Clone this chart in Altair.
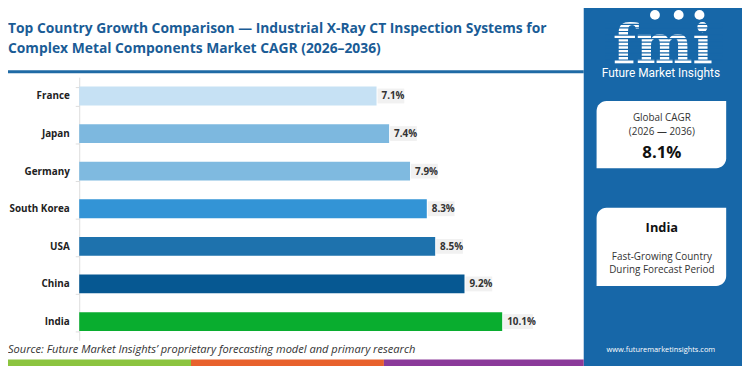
import altair as alt
import pandas as pd

countries = ["France", "Japan", "Germany", "South Korea", "USA", "China", "India"]
cagr = [7.1, 7.4, 7.9, 8.3, 8.5, 9.2, 10.1]
labels = ["7.1%", "7.4%", "7.9%", "8.3%", "8.5%", "9.2%", "10.1%"]
bar_colors = ["#c6e1f4", "#7db8df", "#7fbae0", "#3394d6", "#1e72ad", "#065892", "#09ad2f"]

title_lines = ["Top Country Growth Comparison \u2014 Industrial X-Ray CT Inspection Systems for",
               "Complex Metal Components Market CAGR (2026\u20132036)"]
source_text = "Source: Future Market Insights\u2019 proprietary forecasting model and primary research"
global_lines = ["Global CAGR", "(2026 \u2014 2036)"]
global_value = "8.1%"
fast_country = "India"
fast_lines = ["Fast-Growing Country", "During Forecast Period"]
website = "www.futuremarketinsights.com"

FONT = "Open Sans"
df = pd.DataFrame({"country": countries, "cagr": cagr, "label": labels})
one = pd.DataFrame({"a": [0]})


def rect(x, x2, y, y2, color, **kw):
    return alt.Chart(one).mark_rect(color=color, **kw).encode(
        x=alt.value(x), x2=alt.value(x2), y=alt.value(y), y2=alt.value(y2))


def text(t, x, y, size, color, weight="normal", align="left", style="normal", font=FONT, lh=None):
    kw = dict(align=align, baseline="alphabetic", fontSize=size, color=color,
              fontWeight=weight, fontStyle=style, font=font)
    if lh:
        kw["lineHeight"] = lh
    return alt.Chart(one).mark_text(**kw).encode(
        x=alt.value(x), y=alt.value(y), text=alt.value(t))


y_enc = alt.Y("country:N", sort=countries,
              scale=alt.Scale(paddingInner=0.5, paddingOuter=0.25),
              axis=alt.Axis(title=None, domainColor="#dddddd", tickColor="#dddddd",
                            tickSize=4, tickBand="extent", labelPadding=6,
                            labelFont=FONT, labelFontWeight="bold", labelFontSize=10,
                            labelColor="#222222", grid=False))
x_enc = alt.X("cagr:Q", scale=alt.Scale(domain=[0, 12]), axis=None)

bars = alt.Chart(df).mark_bar(size=19).encode(
    x=x_enc, y=y_enc,
    color=alt.Color("country:N", scale=alt.Scale(domain=countries, range=bar_colors), legend=None))

label_bg = alt.Chart(df).transform_calculate(
    s="datum.cagr + 0.024",
    e="datum.cagr + 0.378 + 0.071 * length(datum.label)",
).mark_bar(size=15, color="#f1f1f1").encode(
    x=alt.X("s:Q", scale=alt.Scale(domain=[0, 12]), axis=None), x2="e:Q", y=y_enc)

label_txt = alt.Chart(df).mark_text(align="left", baseline="middle", dx=5, dy=0.5,
                                    fontWeight="bold", fontSize=10, color="#333333",
                                    font=FONT).encode(x=x_enc, y=y_enc, text="label:N")

layers = [
    # side panel and decorations
    rect(510, 672, -80, 292, "#1767a8"),
    rect(-82, 510, -7, -4, "#1f6aa5"),
    rect(-82, 113, 285.5, 292, "#8cc43f"),
    rect(113, 308, 285.5, 292, "#e8612c"),
    rect(308, 510, 285.5, 292, "#8b3a9a"),
    text(title_lines, -72, -44.5, 14, "#1a5c96", weight="bold", lh=20),
    text(source_text, -72, 279, 11.2, "#333333", style="italic"),
    # logo
    text("fmi", 590, -14, 54, "#ffffff", weight="bold", align="center", font="DejaVu Serif"),
]
for k in range(11):
    yy = -54 + k * 3.6
    layers.append(rect(532, 650, yy, yy + 1.2, "#1767a8"))
for cx in [582, 606, 627]:
    layers.append(alt.Chart(one).mark_point(filled=True, color="#ffffff", size=100, opacity=1).encode(
        x=alt.value(cx), y=alt.value(-63)))
layers += [
    text("Future Market Insights", 588, 0, 12, "#ffffff", align="center", font="Roboto"),
    # boxes
    rect(523, 654, 24, 92, "#ffffff", cornerRadiusTopLeft=10, cornerRadiusBottomRight=10),
    rect(523, 654, 132, 211, "#ffffff", cornerRadiusTopLeft=10, cornerRadiusBottomRight=10),
    text(global_lines, 589, 44, 10, "#333333", align="center", lh=14),
    text(global_value, 589, 82, 17, "#111111", weight="bold", align="center"),
    text(fast_country, 589, 156, 13, "#111111", weight="bold", align="center"),
    text(fast_lines, 589, 185, 10, "#333333", align="center", lh=13),
    text(website, 588, 278, 7.5, "#ffffff", align="center"),
    bars, label_bg, label_txt,
]

chart = alt.layer(*layers).properties(
    width=508, height=266,
    autosize=alt.AutoSizeParams(type="none"),
    padding={"left": 72, "top": 68, "right": 162, "bottom": 24},
    background="#ffffff",
).configure_view(stroke=None)

chart.save("out.html", embed_options={"renderer": "svg", "actions": False})
